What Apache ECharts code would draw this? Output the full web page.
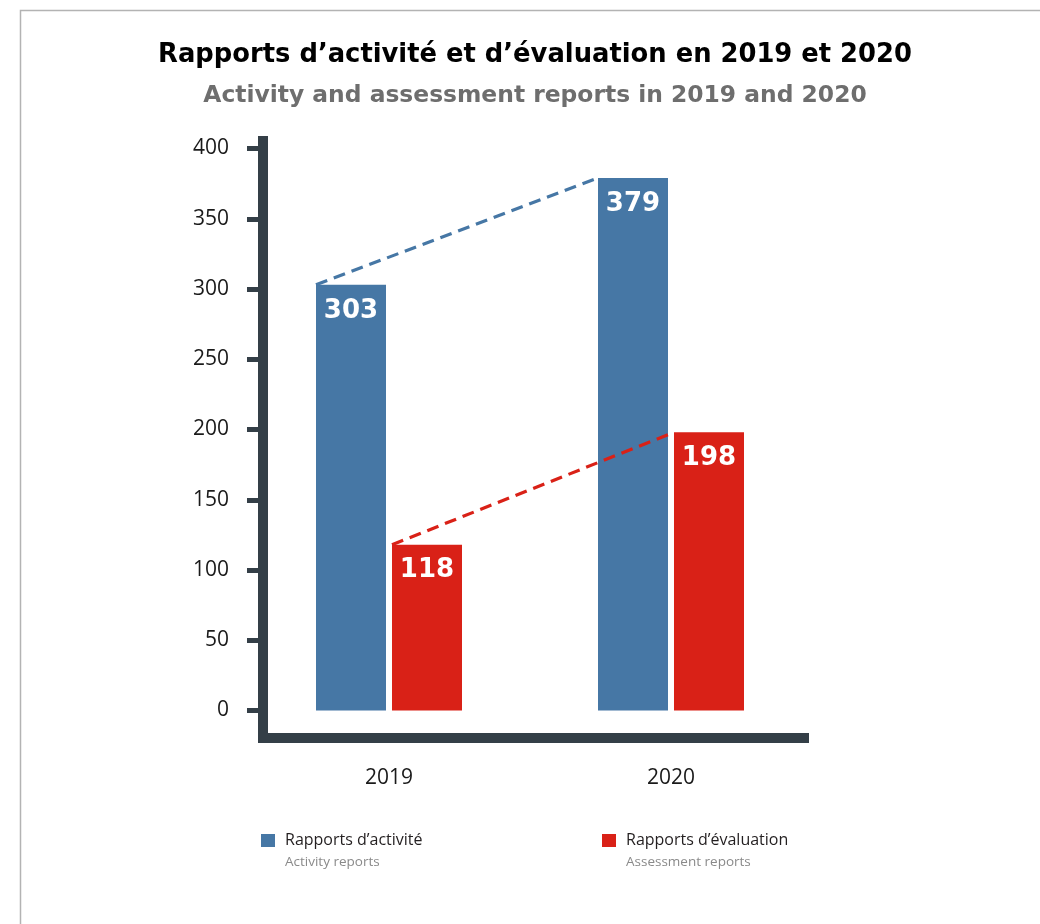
<!DOCTYPE html>
<html>
<head>
<meta charset="utf-8">
<title>Rapports d’activité et d’évaluation en 2019 et 2020</title>
<script src="https://cdn.jsdelivr.net/npm/echarts@6/dist/echarts.min.js"></script>
<style>
  html, body { margin: 0; padding: 0; background: #ffffff; }
  #chart { width: 1040px; height: 924px; }
</style>
</head>
<body>
<div id="chart"></div>
<script>
// Report counts per year
const years = ['2019', '2020'];
const activityReports = [303, 379];
const assessmentReports = [118, 198];

// Value axis range and step
const yMin = 0;
const yMax = 400;
const yStep = 50;

// Series names (French) with their English captions
const activityName = 'Rapports d’activité';
const activityCaption = 'Activity reports';
const assessmentName = 'Rapports d’évaluation';
const assessmentCaption = 'Assessment reports';

const titleText = 'Rapports d’activité et d’évaluation en 2019 et 2020';
const subtitleText = 'Activity and assessment reports in 2019 and 2020';

const BLUE = '#4677a5';
const RED = '#d92117';
const AXIS = '#343f47';
const BAR_W = 70;
const BAR_GAP = 6;

const chart = echarts.init(document.getElementById('chart'), null, { renderer: 'canvas' });

// Dashed trend joining the top-left corners of one series' bars
function trend(values, color, side) {
  return {
    type: 'custom',
    xAxisIndex: 0,
    yAxisIndex: 0,
    z: 5,
    silent: true,
    data: values.map((v, i) => [i, v]),
    renderItem(params, api) {
      const i = params.dataIndex;
      if (i >= values.length - 1) return null;
      const a = api.coord([i, values[i]]);
      const b = api.coord([i + 1, values[i + 1]]);
      const dx = side < 0 ? -(BAR_W + BAR_GAP / 2) : BAR_GAP / 2;
      return {
        type: 'line',
        shape: { x1: a[0] + dx, y1: a[1], x2: b[0] + dx, y2: b[1] },
        style: { stroke: color, lineWidth: 3.2, lineDash: [12, 7] }
      };
    }
  };
}

function legendFor(name, caption, left) {
  return {
    data: [name],
    left: left,
    top: 817.5,
    padding: 0,
    icon: 'rect',
    itemWidth: 14,
    itemHeight: 13,
    selectedMode: false,
    formatter: () => '{s| }\n{a|' + name + '}\n{b|' + caption + '}',
    textStyle: {
      fontFamily: 'Open Sans',
      rich: {
        s: { fontSize: 2, lineHeight: 22 },
        a: { fontFamily: 'Open Sans', fontSize: 16, color: '#231f20', lineHeight: 22, padding: [0, 0, 0, 5] },
        b: { fontFamily: 'Open Sans', fontSize: 13.5, color: '#8a8a8a', lineHeight: 22, padding: [0, 0, 0, 5] }
      }
    }
  };
}

const barLabel = {
  show: true,
  position: 'insideTop',
  distance: 13,
  color: '#ffffff',
  fontFamily: 'DejaVu Sans',
  fontWeight: 'bold',
  fontSize: 26
};

const option = {
  backgroundColor: '#ffffff',
  animation: false,
  title: [
    {
      text: titleText,
      left: 535,
      top: 42,
      textAlign: 'center',
      padding: 0,
      textStyle: { fontFamily: 'DejaVu Sans', fontWeight: 'bold', fontSize: 25.8, color: '#000000' }
    },
    {
      text: subtitleText,
      left: 535,
      top: 84,
      textAlign: 'center',
      padding: 0,
      textStyle: { fontFamily: 'DejaVu Sans', fontWeight: 'bold', fontSize: 23.4, color: '#6e6e6e' }
    }
  ],
  legend: [
    legendFor(activityName, activityCaption, 261),
    legendFor(assessmentName, assessmentCaption, 602)
  ],
  grid: [
    // plotting area for the bars
    { left: 248, right: 228, top: 148.5, bottom: 213.5 },
    // frame carrying the heavy axis lines
    { left: 263, right: 236, top: 141, bottom: 186 }
  ],
  xAxis: [
    {
      type: 'category',
      gridIndex: 0,
      data: years,
      axisLine: { show: false },
      axisTick: { show: false },
      axisLabel: { margin: 57, fontFamily: 'Open Sans', fontSize: 21, color: '#1a1a1a' }
    },
    {
      type: 'value',
      gridIndex: 1,
      min: 0,
      max: 1,
      axisLine: { show: true, onZero: false, lineStyle: { color: AXIS, width: 10, cap: 'square' } },
      axisTick: { show: false },
      axisLabel: { show: false },
      splitLine: { show: false }
    }
  ],
  yAxis: [
    {
      type: 'value',
      gridIndex: 0,
      min: yMin,
      max: yMax,
      interval: yStep,
      offset: -10,
      axisLine: { show: false },
      axisTick: { show: true, length: 11, lineStyle: { color: AXIS, width: 5 } },
      axisLabel: { margin: 29, fontFamily: 'Open Sans', fontSize: 21, color: '#1a1a1a' },
      splitLine: { show: false }
    },
    {
      type: 'value',
      gridIndex: 1,
      min: 0,
      max: 1,
      axisLine: { show: true, onZero: false, lineStyle: { color: AXIS, width: 10, cap: 'square' } },
      axisTick: { show: false },
      axisLabel: { show: false },
      splitLine: { show: false }
    }
  ],
  series: [
    {
      name: activityName,
      type: 'bar',
      xAxisIndex: 0,
      yAxisIndex: 0,
      barWidth: BAR_W,
      barGap: (BAR_GAP / BAR_W * 100).toFixed(2) + '%',
      itemStyle: { color: BLUE },
      label: barLabel,
      data: activityReports
    },
    {
      name: assessmentName,
      type: 'bar',
      xAxisIndex: 0,
      yAxisIndex: 0,
      barWidth: BAR_W,
      itemStyle: { color: RED },
      label: barLabel,
      data: assessmentReports
    },
    trend(activityReports, BLUE, -1),
    trend(assessmentReports, RED, 1)
  ],
  graphic: [
    {
      type: 'rect',
      silent: true,
      shape: { x: 20.5, y: 10.5, width: 1100, height: 1000 },
      style: { fill: null, stroke: '#b3b3b3', lineWidth: 1.5 },
      z: -1
    }
  ]
};

chart.setOption(option);
</script>
</body>
</html>
